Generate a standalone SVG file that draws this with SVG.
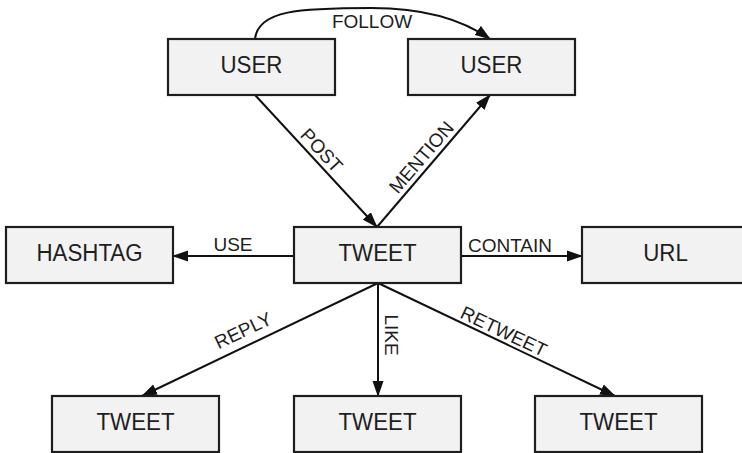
<svg xmlns="http://www.w3.org/2000/svg" width="742" height="453" viewBox="0 0 742 453">
  <style>
    .node rect { fill: #f2f2f2; stroke: #1e1e1e; stroke-width: 2.2; }
    .node text { font-family: "Liberation Sans", Arial, sans-serif; font-size: 24px; fill: #1e1e1e; text-anchor: middle; }
    .edge { fill: none; stroke: #111; stroke-width: 2; marker-end: url(#arrow); }
    .label { font-family: "Liberation Sans", Arial, sans-serif; font-size: 19px; fill: #1e1e1e; text-anchor: middle; }
  </style>
  <defs>
    <marker id="arrow" markerUnits="userSpaceOnUse" markerWidth="16" markerHeight="12" viewBox="0 0 16 12" refX="15" refY="6" orient="auto">
      <path d="M0,0.5 L16,6 L0,11.5 z" fill="#111"/>
    </marker>
  </defs>
  <rect width="742" height="453" fill="#ffffff"/>

  <g id="connectors">
    <path class="edge" d="M255,39 C258,10 300,8 372,8 C420,8 460,18 490,39"/>
    <path class="edge" d="M255,95 L377,227"/>
    <path class="edge" d="M377,227 L490,95"/>
    <path class="edge" d="M294,256 L173,256"/>
    <path class="edge" d="M461,256 L582,256"/>
    <path class="edge" d="M378,283 L142,396"/>
    <path class="edge" d="M378,283 L378,396"/>
    <path class="edge" d="M378,283 L615,396"/>

    <text class="label" x="372" y="28">FOLLOW</text>
    <text class="label" transform="translate(322,150) rotate(47)" y="7">POST</text>
    <text class="label" transform="translate(421,157) rotate(-49.4)" y="7">MENTION</text>
    <text class="label" x="233" y="251">USE</text>
    <text class="label" x="510" y="252">CONTAIN</text>
    <text class="label" transform="translate(243,330) rotate(-25.6)" y="7">REPLY</text>
    <text class="label" transform="translate(392,335) rotate(90)" y="7">LIKE</text>
    <text class="label" transform="translate(504,331) rotate(25.5)" y="7">RETWEET</text>
  </g>

  <g id="user-a" class="node">
    <rect x="168" y="39" width="167" height="56"/>
    <text transform="translate(251.5,73) scale(0.93,1)">USER</text>
  </g>
  <g id="user-b" class="node">
    <rect x="408" y="39" width="167" height="56"/>
    <text transform="translate(491.5,73) scale(0.93,1)">USER</text>
  </g>
  <g id="hashtag" class="node">
    <rect x="6" y="227" width="167" height="56"/>
    <text transform="translate(89.5,261) scale(0.93,1)">HASHTAG</text>
  </g>
  <g id="tweet" class="node">
    <rect x="294" y="227" width="167" height="56"/>
    <text transform="translate(377.5,261) scale(0.93,1)">TWEET</text>
  </g>
  <g id="url" class="node">
    <rect x="582" y="227" width="167" height="56"/>
    <text transform="translate(665.5,261) scale(0.93,1)">URL</text>
  </g>
  <g id="tweet-reply" class="node">
    <rect x="52" y="396" width="167" height="56"/>
    <text transform="translate(135.5,430) scale(0.93,1)">TWEET</text>
  </g>
  <g id="tweet-like" class="node">
    <rect x="294" y="396" width="167" height="56"/>
    <text transform="translate(377.5,430) scale(0.93,1)">TWEET</text>
  </g>
  <g id="tweet-retweet" class="node">
    <rect x="535" y="396" width="167" height="56"/>
    <text transform="translate(618.5,430) scale(0.93,1)">TWEET</text>
  </g>
</svg>
